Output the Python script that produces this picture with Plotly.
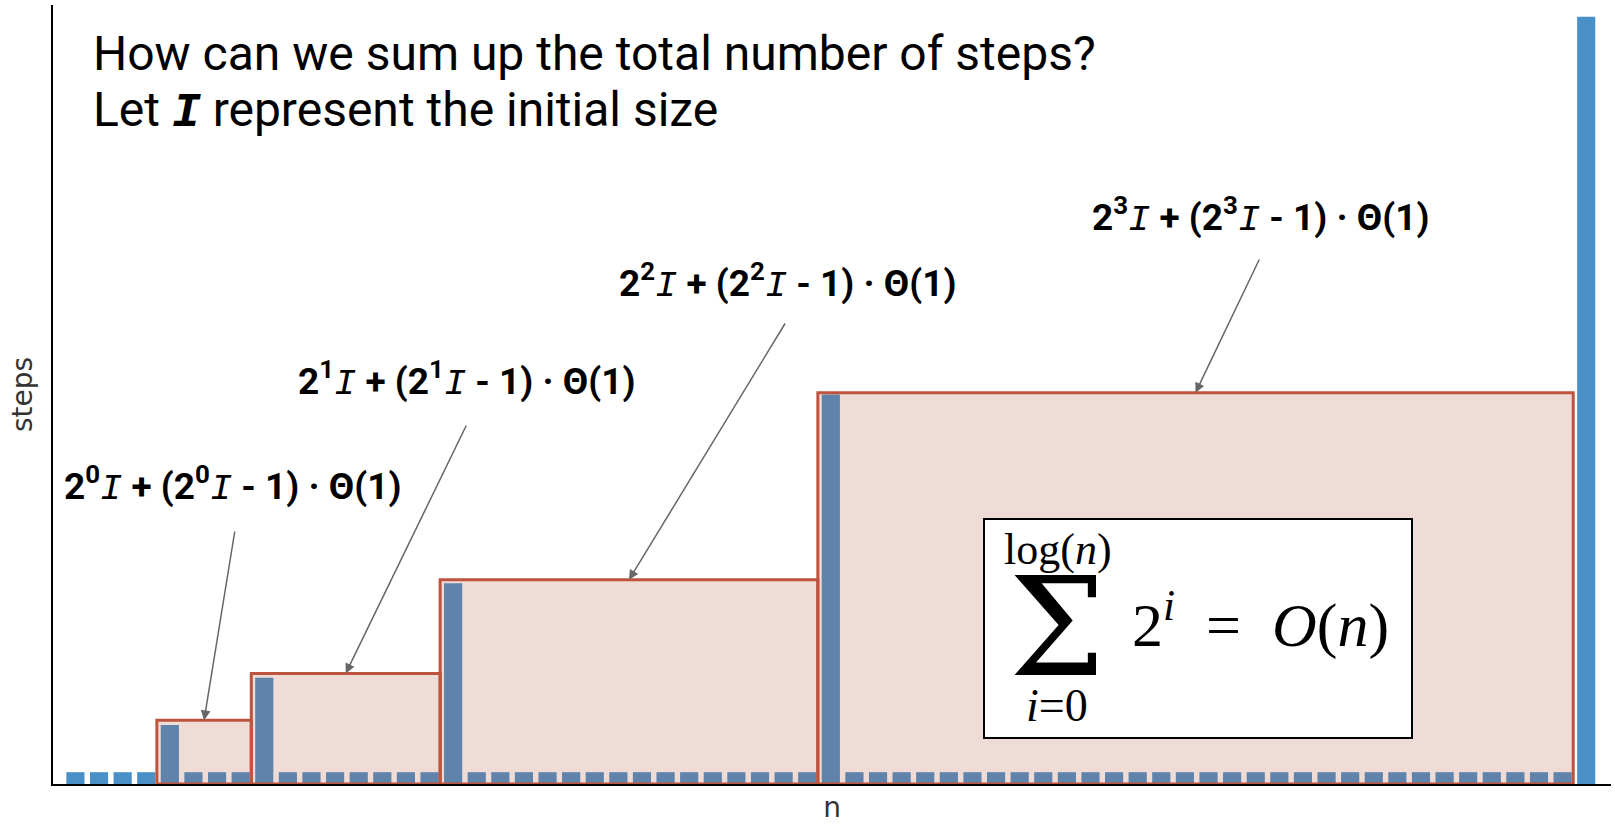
import plotly.graph_objects as go

# ---- data ----
n_values = list(range(1, 66))
steps = [1, 1, 1, 1, 5, 1, 1, 1, 9, 1, 1, 1, 1, 1, 1, 1,
         17, 1, 1, 1, 1, 1, 1, 1, 1, 1, 1, 1, 1, 1, 1, 1,
         33, 1, 1, 1, 1, 1, 1, 1, 1, 1, 1, 1, 1, 1, 1, 1,
         1, 1, 1, 1, 1, 1, 1, 1, 1, 1, 1, 1, 1, 1, 1, 1,
         65]
power_labels = ["0", "1", "2", "3"]
title_lines = ["How can we sum up the total number of steps?",
               "Let <span style=\"font-family:'Liberation Mono'\"><b><i>I</i></b></span> represent the initial size"]
x_label = "n"
y_label = "steps"

# ---- styles ----
W, H = 1615, 824
ML, MR, MT, MB = 53, 4, 5, 40
BAR_BLUE = "#4a90c8"
BOX_LINE = "#be543e"
BOX_FILL = "rgba(180,80,50,0.2)"
PAD = 0.45

pw = W - ML - MR
ph = H - MT - MB


def px2paper(px, py):
    return (px - ML) / pw, (H - MB - py) / ph


fig = go.Figure()
fig.add_trace(go.Bar(x=n_values, y=steps, marker=dict(color=BAR_BLUE, line=dict(width=0)),
                     showlegend=False))

# resize points (spikes) found from the data
spike_idx = [i for i, s in enumerate(steps) if s > 1]
annotations = []
label_pos = [(232, 485), (467, 379), (787, 281), (1260, 215)]
arrow_tail = [(235, 530), (467, 424), (786, 322), (1260, 258)]

xr0, xr1 = n_values[0] - 0.95, n_values[-1] + 1.05
yr0, yr1 = 0, 66


def d2px(x, y):
    return ML + (x - xr0) / (xr1 - xr0) * pw, MT + (yr1 - y) / (yr1 - yr0) * ph


for k in range(len(spike_idx) - 1):
    i0, i1 = spike_idx[k], spike_idx[k + 1]
    x0 = n_values[i0] - 0.55
    x1 = n_values[i1] - 0.55
    top = steps[i0] + PAD - 0.009 * steps[i0]
    fig.add_shape(type="rect", xref="x", yref="y", x0=x0, x1=x1, y0=0, y1=top,
                  line=dict(color=BOX_LINE, width=3), fillcolor=BOX_FILL, layer="above")
    # label
    lx, ly = px2paper(*label_pos[k])
    p = power_labels[k]
    Itxt = "<span style=\"font-family:'Liberation Mono';font-weight:normal\"><i>I</i></span>"
    txt = f"2<sup>{p}</sup>{Itxt} + (2<sup>{p}</sup>{Itxt} - 1) · Θ(1)"
    annotations.append(dict(text=txt, xref="paper", yref="paper", x=lx, y=ly,
                            xanchor="center", yanchor="middle", showarrow=False,
                            font=dict(family="Roboto", size=37, color="black", weight="bold")))
    # arrow
    cx = (x0 + x1) / 2
    hx, hy = d2px(cx, top)
    tx, ty = arrow_tail[k]
    annotations.append(dict(text="", x=cx, y=top, xref="x", yref="y", showarrow=True,
                            ax=tx - hx, ay=ty - hy, arrowhead=2, arrowsize=1.3,
                            arrowwidth=1.5, arrowcolor="#666666", standoff=0))

# title text
for line, py in zip(title_lines, [53, 110]):
    tx, ty = px2paper(91, py)
    annotations.append(dict(text=line, xref="paper", yref="paper", x=tx, y=ty,
                            xanchor="left", yanchor="middle", showarrow=False,
                            font=dict(family="Roboto", size=48, color="black")))

# formula box
bx0, by0 = px2paper(984, 738)
bx1, by1 = px2paper(1412, 519)
fig.add_shape(type="rect", xref="paper", yref="paper", x0=bx0, x1=bx1, y0=by0, y1=by1,
              line=dict(color="black", width=2), fillcolor="white", layer="above")
serif = "Liberation Serif"
EN = "\u2002"
for txt, (px, py), size, anchor, fam in [
    ("log(<i>n</i>)", (1058, 549), 44, "center", serif),
    ("\u03a3", (1057, 628), 136, "center", "DejaVu Serif"),
    ("<i>i</i>=0", (1057, 705), 46, "center", serif),
    (f"2<sup><i>i</i></sup>{EN}={EN}<i>O</i>(<i>n</i>)", (1130, 620), 62, "left", serif),
]:
    fx, fy = px2paper(px, py)
    annotations.append(dict(text=txt, xref="paper", yref="paper", x=fx, y=fy,
                            xanchor=anchor, yanchor="middle", showarrow=False,
                            font=dict(family=fam, size=size, color="black")))

fig.update_layout(
    width=W, height=H,
    margin=dict(l=ML, r=MR, t=MT, b=MB),
    paper_bgcolor="white", plot_bgcolor="white",
    bargap=0.23,
    annotations=annotations,
    xaxis=dict(range=[xr0, xr1], showline=True, linecolor="black", linewidth=2,
               showgrid=False, zeroline=False, showticklabels=False, ticks="",
               title=dict(text=x_label, font=dict(family="DejaVu Sans", size=28, color="#333333"),
                          standoff=14)),
    yaxis=dict(range=[yr0, yr1], showline=True, linecolor="black", linewidth=2,
               showgrid=False, zeroline=False, showticklabels=False, ticks="",
               title=dict(text=y_label, font=dict(family="DejaVu Sans", size=28, color="#333333"),
                          standoff=10)),
)

fig.write_html("out.html", config={"displayModeBar": False},
               post_script="document.body.style.margin='0px';")
